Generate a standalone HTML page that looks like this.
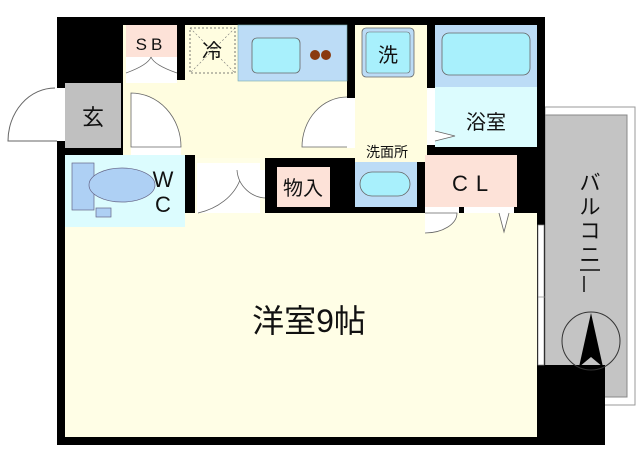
<!DOCTYPE html>
<html><head><meta charset="utf-8"><style>
html,body{margin:0;padding:0;background:#fff;width:640px;height:453px;overflow:hidden}
text{font-family:"Liberation Sans","Noto Sans CJK JP",sans-serif;fill:#111}
</style></head><body>
<svg width="640" height="453" viewBox="0 0 640 453" xmlns="http://www.w3.org/2000/svg">
<rect x="545" y="107" width="90" height="298" fill="#fff" stroke="#999" stroke-width="1"/>
<rect x="545" y="115" width="82" height="282" fill="#c4c4c4" stroke="#888" stroke-width="1"/>
<rect x="57" y="17" width="488" height="428" fill="#000"/>
<rect x="537" y="365" width="68" height="80" fill="#000"/>
<rect x="65" y="213" width="472" height="224" fill="#fffee6"/>
<rect x="123" y="25" width="224" height="122" fill="#fffde0"/>
<rect x="123" y="147" width="72" height="8" fill="#fffde0"/>
<rect x="195" y="147" width="160" height="11" fill="#fffde0"/>
<rect x="195" y="158" width="70" height="60" fill="#fffee6"/>
<rect x="355" y="25" width="72" height="137" fill="#fffde0"/>
<rect x="355" y="147" width="62" height="15" fill="#fffde0"/>
<rect x="126" y="25" width="51" height="32" fill="#fde2d8"/>
<text x="151" y="50" font-size="17" text-anchor="middle" letter-spacing="4">SB</text>
<rect x="126" y="57" width="51" height="26" fill="#fff"/>
<path d="M126 73 Q148 65 151 57 M177 73 Q154 65 151 57" fill="none" stroke="#666" stroke-width="0.8"/>
<rect x="177" y="17" width="8" height="63" fill="#000"/>
<rect x="190" y="28" width="45" height="45" fill="#fffde0" stroke="#555" stroke-dasharray="2,2" stroke-width="0.8"/>
<path d="M190 28 L235 73 M235 28 L190 73" stroke="#777" stroke-dasharray="2,2" stroke-width="0.6"/>
<text x="212" y="58" font-size="20" text-anchor="middle">冷</text>
<rect x="238" y="25" width="109" height="56" fill="#bcdcf6" stroke="#7aa" stroke-width="0.6"/>
<rect x="252" y="38" width="48" height="35" rx="5" fill="#a8f0fc" stroke="#666" stroke-width="0.8"/>
<circle cx="315" cy="55" r="5" fill="#8a3a10"/><circle cx="326" cy="55" r="5" fill="#8a3a10"/>
<rect x="65" y="83" width="56" height="65" fill="#c0c0c0"/>
<text x="93" y="125" font-size="22" text-anchor="middle">玄</text>
<rect x="57" y="88" width="8" height="53" fill="#fff"/>
<path d="M55 88 A47 53 0 0 0 8 141 L57 141" fill="none" stroke="#666" stroke-width="1"/>
<rect x="131" y="147" width="50" height="8" fill="#fff"/>
<path d="M131 147 L131 93 A50 54 0 0 1 181 147 Z" fill="#fff" stroke="#666" stroke-width="0.8"/>
<rect x="65" y="155" width="120" height="72" fill="#dcfcfe"/>
<rect x="72" y="163" width="22" height="47" fill="#aed0f4" stroke="#668" stroke-width="0.7"/>
<ellipse cx="122" cy="185" rx="33" ry="17" fill="#aed0f4" stroke="#668" stroke-width="0.7"/>
<rect x="96" y="208" width="15" height="9" fill="#aed0f4" stroke="#668" stroke-width="0.7"/>
<text x="163" y="187" font-size="22" text-anchor="middle">W</text>
<text x="163" y="212" font-size="22" text-anchor="middle">C</text>
<rect x="197" y="163" width="63" height="50" fill="#fff"/>
<path d="M198 213 A60 50 0 0 0 240 180" fill="none" stroke="#666" stroke-width="0.8"/>
<path d="M237 170 A30 30 0 0 0 267 198 L267 170" fill="#fff" stroke="#666" stroke-width="0.8"/>
<rect x="265" y="158" width="90" height="12" fill="#000"/>
<rect x="265" y="158" width="12" height="55" fill="#000"/>
<rect x="277" y="167" width="53" height="40" fill="#fde2d8"/>
<text x="303" y="195" font-size="20" text-anchor="middle">物入</text>
<rect x="330" y="158" width="25" height="55" fill="#000"/>
<rect x="347" y="98" width="8" height="50" fill="#fff"/>
<path d="M347 147 L302 147 A45 50 0 0 1 347 97" fill="#fff" stroke="#666" stroke-width="0.8"/>
<rect x="362" y="28" width="52" height="49" rx="4" fill="#bcdcf6" stroke="#666" stroke-width="0.8"/>
<rect x="366" y="32" width="44" height="41" rx="3" fill="#a8f0fc" stroke="#666" stroke-width="0.6"/>
<text x="388" y="62" font-size="20" text-anchor="middle">洗</text>
<text x="387" y="157" font-size="14" text-anchor="middle">洗面所</text>
<rect x="355" y="162" width="62" height="45" fill="#bcdcf6"/>
<rect x="360" y="172" width="50" height="24" rx="12" fill="#a8f0fc" stroke="#666" stroke-width="0.8"/>
<rect x="435" y="25" width="102" height="62" fill="#bcdcf6"/>
<rect x="442" y="33" width="88" height="42" rx="7" fill="#a8f0fc" stroke="#666" stroke-width="0.8"/>
<rect x="435" y="87" width="102" height="60" fill="#dcfcfe"/>
<text x="486" y="129" font-size="20" text-anchor="middle">浴室</text>
<rect x="427" y="88" width="8" height="57" fill="#fff"/>
<path d="M435 131 L455 136 L435 141" fill="#fff" stroke="#666" stroke-width="0.8"/>
<rect x="425" y="155" width="92" height="52" fill="#fde2d8"/>
<text x="474" y="191" font-size="22" text-anchor="middle" letter-spacing="8">CL</text>
<rect x="425" y="207" width="34" height="6" fill="#fff"/>
<rect x="464" y="207" width="50" height="6" fill="#fff"/>
<path d="M425 213 L457 213 A32 20 0 0 1 425 233" fill="#fff" stroke="#666" stroke-width="0.8"/>
<path d="M499 213 L504 232 L509 213" fill="#fff" stroke="#666" stroke-width="0.8"/>
<rect x="538" y="225" width="6" height="140" fill="#fff" stroke="#888" stroke-width="0.7"/>
<line x1="538" y1="297" x2="545" y2="297" stroke="#888" stroke-width="0.7"/>
<text x="309" y="332" font-size="32" text-anchor="middle">洋室9帖</text>
<text x="590" y="190" font-size="21" text-anchor="middle">バ</text>
<text x="590" y="214" font-size="21" text-anchor="middle">ル</text>
<text x="590" y="238" font-size="21" text-anchor="middle">コ</text>
<text x="590" y="262" font-size="21" text-anchor="middle">ニ</text>
<line x1="580" y1="270" x2="600" y2="270" stroke="#111" stroke-width="1.5"/>
<line x1="584" y1="276" x2="584" y2="292" stroke="#111" stroke-width="1.5"/>
<circle cx="591" cy="341" r="29" fill="none" stroke="#333" stroke-width="1"/>
<path d="M591 313 L603 367 L591 357 L579 367 Z" fill="#000"/>
</svg>
</body></html>
